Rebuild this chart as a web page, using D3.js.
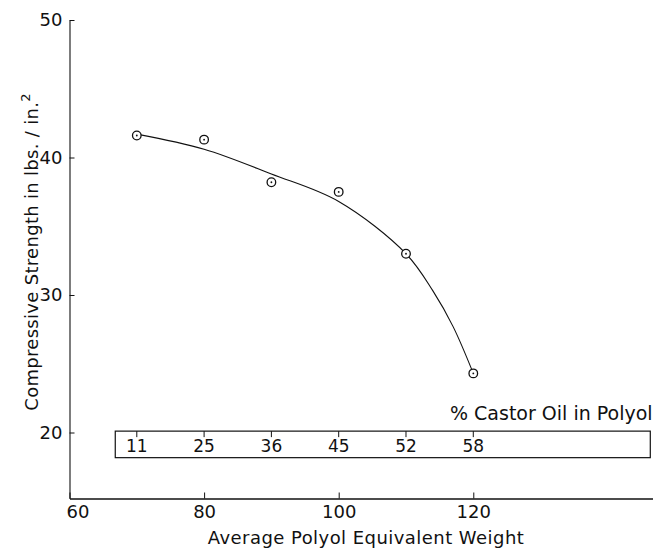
<!DOCTYPE html>
<html>
<head>
<meta charset="utf-8">
<script src="https://cdn.jsdelivr.net/npm/d3@7"></script>
<style>
  body { margin: 0; background: #fff; }
  text { font-family: "DejaVu Sans", "Liberation Sans", sans-serif; fill: #111; }
</style>
</head>
<body>
<div id="chart"></div>
<script>
// measured points
var weight = [70, 80, 90, 100, 110, 120];
var strength = [41.6, 41.3, 38.2, 37.5, 33.0, 24.3];

// hand drawn fitted curve
var curveX = [70, 80, 90, 100, 110, 114, 117, 120];
var curveY = [41.7, 40.6, 38.8, 36.8, 33.0, 30.3, 27.7, 24.3];

// castor oil scale
var castorAt = [70, 80, 90, 100, 110, 120];
var castorPct = [11, 25, 36, 45, 52, 58];

var xTicks = [60, 80, 100, 120];
var yTicks = [20, 30, 40, 50];

var width = 653, height = 549;

var svg = d3.select("#chart").append("svg")
  .attr("width", width)
  .attr("height", height);

var x = d3.scaleLinear().domain([60, 147]).range([69.5, 655]);
var y = d3.scaleLinear().domain([15.2, 50]).range([498.5, 20]);

// x axis
var xAxis = svg.append("g")
  .attr("transform", "translate(0," + y(15.2) + ")")
  .call(d3.axisBottom(x).tickValues(xTicks).tickSizeInner(-6).tickSizeOuter(0).tickPadding(7));
xAxis.select(".domain").attr("stroke", "#111").attr("stroke-width", 1.3);
xAxis.selectAll(".tick line").attr("stroke", "#111");
xAxis.selectAll(".tick text")
  .attr("font-size", "18px")
  .attr("dx", (d) => { return d == 60 ? 8 : 0; });

// y axis
var yAxis = svg.append("g")
  .attr("transform", "translate(" + x(60) + ",0)")
  .call(d3.axisLeft(y).tickValues(yTicks).tickSizeInner(-5).tickSizeOuter(0).tickPadding(7));
yAxis.select(".domain").attr("stroke", "#111").attr("stroke-width", 1.1);
yAxis.selectAll(".tick line").attr("stroke", "#111");
yAxis.selectAll(".tick text").attr("font-size", "18px");

// axis titles
svg.append("text")
  .attr("x", 366)
  .attr("y", 544)
  .attr("font-size", "18px")
  .attr("text-anchor", "middle")
  .attr("letter-spacing", "0.45px")
  .text("Average Polyol Equivalent Weight");

var yl = svg.append("text")
  .attr("transform", "translate(38,252) rotate(-90)")
  .attr("font-size", "18px")
  .attr("text-anchor", "middle")
  .attr("letter-spacing", "0.3px");
yl.append("tspan").text("Compressive Strength in lbs. / in.");
yl.append("tspan").attr("dy", -8).attr("font-size", "13px").text("2");

// castor oil box
var boxTop = y(20.1), boxBottom = y(18.17);
svg.append("rect")
  .attr("x", x(66.8))
  .attr("y", boxTop)
  .attr("width", x(146.3) - x(66.8))
  .attr("height", boxBottom - boxTop)
  .attr("fill", "none")
  .attr("stroke", "#111")
  .attr("stroke-width", 1.2);

var castor = svg.append("g");
castorAt.forEach((c, i) => {
  castor.append("line")
    .attr("x1", x(c)).attr("x2", x(c))
    .attr("y1", boxTop).attr("y2", boxTop + 6)
    .attr("stroke", "#111");
  castor.append("text")
    .attr("x", x(c))
    .attr("y", boxBottom - 5.5)
    .attr("font-size", "17px")
    .attr("text-anchor", "middle")
    .text(castorPct[i]);
});
svg.append("text")
  .attr("x", 450)
  .attr("y", 420)
  .attr("font-size", "19px")
  .text("% Castor Oil in Polyol");

// curve
var line = d3.line()
  .x((d) => { return x(d[0]); })
  .y((d) => { return y(d[1]); })
  .curve(d3.curveCatmullRom.alpha(0.5));
svg.append("path")
  .datum(d3.zip(curveX, curveY))
  .attr("d", line)
  .attr("fill", "none")
  .attr("stroke", "#111")
  .attr("stroke-width", 1.1);

// points
var pts = svg.selectAll("g.pt").data(d3.zip(weight, strength)).enter().append("g")
  .attr("class", "pt")
  .attr("transform", (d) => { return "translate(" + x(d[0]) + "," + y(d[1]) + ")"; });
pts.append("circle").attr("r", 4.3).attr("fill", "#fff").attr("stroke", "#111").attr("stroke-width", 1.3);
pts.append("circle").attr("r", 0.9).attr("fill", "#111");
</script>
</body>
</html>
